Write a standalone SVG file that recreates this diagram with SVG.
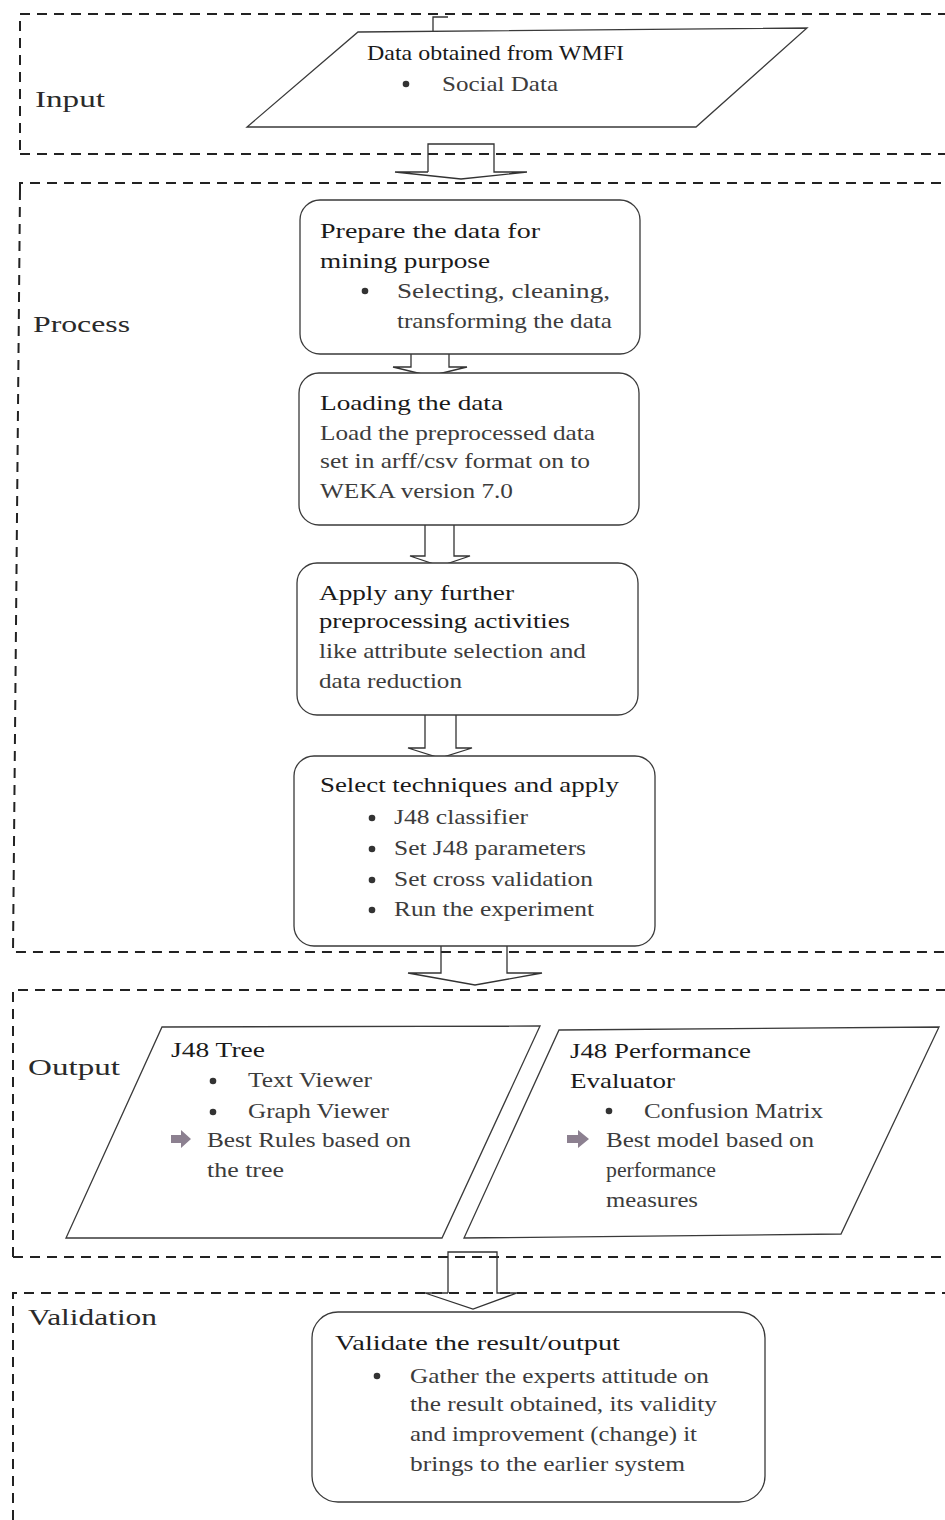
<svg xmlns="http://www.w3.org/2000/svg" width="945" height="1520" viewBox="0 0 945 1520">
<style>
.t{font-family:"Liberation Serif","Times New Roman",serif;font-size:22px;fill:#1a1a1a}
.b{fill:#3c3c3c}
.lbl{font-size:24px;fill:#2a2a2a}
.sec{fill:none;stroke:#222;stroke-width:2;stroke-dasharray:10 7}
.node{fill:#fff;stroke:#3a3a3a;stroke-width:1.3}
.conn{fill:none;stroke:#333;stroke-width:1.3}
.dot{fill:#333}
.arr{fill:#8c8090}
</style>
<rect width="945" height="1520" fill="#fff"/>
<g id="sections">
<path class="sec" d="M20,150 V14 H945"/>
<path class="sec" d="M20,154 H945"/>
<path class="sec" d="M20,190 V183 H945"/>
<path class="sec" d="M20,190 L13,952 H945"/>
<path class="sec" d="M13,1257 V990 H945"/>
<path class="sec" d="M13,1257 H945"/>
<path class="sec" d="M13,1520 V1293 H945"/>
<path d="M433,32 V17 H448" fill="none" stroke="#333" stroke-width="1.3"/>
<text class="t lbl" x="35" y="107" textLength="70" lengthAdjust="spacingAndGlyphs">Input</text>
<text class="t lbl" x="33" y="332" textLength="97" lengthAdjust="spacingAndGlyphs">Process</text>
<text class="t lbl" x="28" y="1075" textLength="92" lengthAdjust="spacingAndGlyphs">Output</text>
<text class="t lbl" x="28" y="1325" textLength="129" lengthAdjust="spacingAndGlyphs">Validation</text>
</g>
<g id="connectors">
<path class="conn" d="M428,172 V144 H494 V172 H527 L461,179 L395,172 H428"/>
<path class="conn" d="M411,354 V367 H393 L430,376 L467,367 H449 V354"/>
<path class="conn" d="M425,525 V556 H410 L440,566 L470,556 H454 V525"/>
<path class="conn" d="M425,715 V748 H408 L440,758 L472,748 H456 V715"/>
<path class="conn" d="M441,946 V973 H408 L475,985 L542,973 H507 V946"/>
<path class="conn" d="M448,1293 V1252 H497 V1293 H517 L473,1309 L425,1293 H448"/>
</g>
<g id="n-input">
<polygon class="node" points="358,32 807,28 696,127 247,127"/>
<text class="t" x="367" y="60" textLength="257" lengthAdjust="spacingAndGlyphs">Data obtained from WMFI</text>
<circle class="dot" cx="406" cy="84" r="3.3"/>
<text class="t b" x="442" y="91" textLength="116" lengthAdjust="spacingAndGlyphs">Social Data</text>
</g>
<g id="n-prepare">
<rect class="node" x="300" y="200" width="340" height="154" rx="20"/>
<text class="t" x="320" y="238" textLength="220" lengthAdjust="spacingAndGlyphs">Prepare the data for</text>
<text class="t" x="320" y="268" textLength="170" lengthAdjust="spacingAndGlyphs">mining purpose</text>
<circle class="dot" cx="365" cy="291" r="3.3"/>
<text class="t b" x="397" y="298" textLength="213" lengthAdjust="spacingAndGlyphs">Selecting, cleaning,</text>
<text class="t b" x="397" y="328" textLength="215" lengthAdjust="spacingAndGlyphs">transforming the data</text>
</g>
<g id="n-loading">
<rect class="node" x="299" y="373" width="340" height="152" rx="20"/>
<text class="t" x="320" y="410" textLength="183" lengthAdjust="spacingAndGlyphs">Loading the data</text>
<text class="t b" x="320" y="440" textLength="275" lengthAdjust="spacingAndGlyphs">Load the preprocessed data</text>
<text class="t b" x="320" y="468" textLength="270" lengthAdjust="spacingAndGlyphs">set in arff/csv format on to</text>
<text class="t b" x="320" y="498" textLength="193" lengthAdjust="spacingAndGlyphs">WEKA version 7.0</text>
</g>
<g id="n-apply">
<rect class="node" x="297" y="563" width="341" height="152" rx="20"/>
<text class="t" x="319" y="600" textLength="195" lengthAdjust="spacingAndGlyphs">Apply any further</text>
<text class="t" x="319" y="628" textLength="251" lengthAdjust="spacingAndGlyphs">preprocessing activities</text>
<text class="t b" x="319" y="658" textLength="267" lengthAdjust="spacingAndGlyphs">like attribute selection and</text>
<text class="t b" x="319" y="688" textLength="143" lengthAdjust="spacingAndGlyphs">data reduction</text>
</g>
<g id="n-select">
<rect class="node" x="294" y="756" width="361" height="190" rx="20"/>
<text class="t" x="320" y="792" textLength="299" lengthAdjust="spacingAndGlyphs">Select techniques and apply</text>
<circle class="dot" cx="372" cy="818" r="3.3"/>
<text class="t b" x="394" y="824" textLength="134" lengthAdjust="spacingAndGlyphs">J48 classifier</text>
<circle class="dot" cx="372" cy="849" r="3.3"/>
<text class="t b" x="394" y="855" textLength="192" lengthAdjust="spacingAndGlyphs">Set J48 parameters</text>
<circle class="dot" cx="372" cy="880" r="3.3"/>
<text class="t b" x="394" y="886" textLength="199" lengthAdjust="spacingAndGlyphs">Set cross validation</text>
<circle class="dot" cx="372" cy="910" r="3.3"/>
<text class="t b" x="394" y="916" textLength="200" lengthAdjust="spacingAndGlyphs">Run the experiment</text>
</g>
<g id="n-tree">
<polygon class="node" points="162,1027 540,1026 442,1238 66,1238"/>
<text class="t" x="171" y="1057" textLength="94" lengthAdjust="spacingAndGlyphs">J48 Tree</text>
<circle class="dot" cx="213" cy="1081" r="3.3"/>
<text class="t b" x="248" y="1087" textLength="124" lengthAdjust="spacingAndGlyphs">Text Viewer</text>
<circle class="dot" cx="213" cy="1112" r="3.3"/>
<text class="t b" x="248" y="1118" textLength="141" lengthAdjust="spacingAndGlyphs">Graph Viewer</text>
<polygon class="arr" points="171,1135 181,1135 181,1130 191,1139 181,1148 181,1143 171,1143"/>
<text class="t b" x="207" y="1147" textLength="204" lengthAdjust="spacingAndGlyphs">Best Rules based on</text>
<text class="t b" x="207" y="1177" textLength="77" lengthAdjust="spacingAndGlyphs">the tree</text>
</g>
<g id="n-perf">
<polygon class="node" points="559,1030 939,1027 841,1234 464,1238"/>
<text class="t" x="570" y="1058" textLength="181" lengthAdjust="spacingAndGlyphs">J48 Performance</text>
<text class="t" x="570" y="1088" textLength="105" lengthAdjust="spacingAndGlyphs">Evaluator</text>
<circle class="dot" cx="609" cy="1111" r="3.3"/>
<text class="t b" x="644" y="1118" textLength="179" lengthAdjust="spacingAndGlyphs">Confusion Matrix</text>
<polygon class="arr" points="567,1135 578,1135 578,1130 589,1139 578,1148 578,1143 567,1143"/>
<text class="t b" x="606" y="1147" textLength="208" lengthAdjust="spacingAndGlyphs">Best model based on</text>
<text class="t b" x="606" y="1177" textLength="110" lengthAdjust="spacingAndGlyphs">performance</text>
<text class="t b" x="606" y="1207" textLength="92" lengthAdjust="spacingAndGlyphs">measures</text>
</g>
<g id="n-validate">
<rect class="node" x="312" y="1312" width="453" height="190" rx="26"/>
<text class="t" x="335" y="1350" textLength="285" lengthAdjust="spacingAndGlyphs">Validate the result/output</text>
<circle class="dot" cx="377" cy="1376" r="3.3"/>
<text class="t b" x="410" y="1383" textLength="299" lengthAdjust="spacingAndGlyphs">Gather the experts attitude on</text>
<text class="t b" x="410" y="1411" textLength="307" lengthAdjust="spacingAndGlyphs">the result obtained, its validity</text>
<text class="t b" x="410" y="1441" textLength="287" lengthAdjust="spacingAndGlyphs">and improvement (change) it</text>
<text class="t b" x="410" y="1471" textLength="275" lengthAdjust="spacingAndGlyphs">brings to the earlier system</text>
</g>
</svg>
